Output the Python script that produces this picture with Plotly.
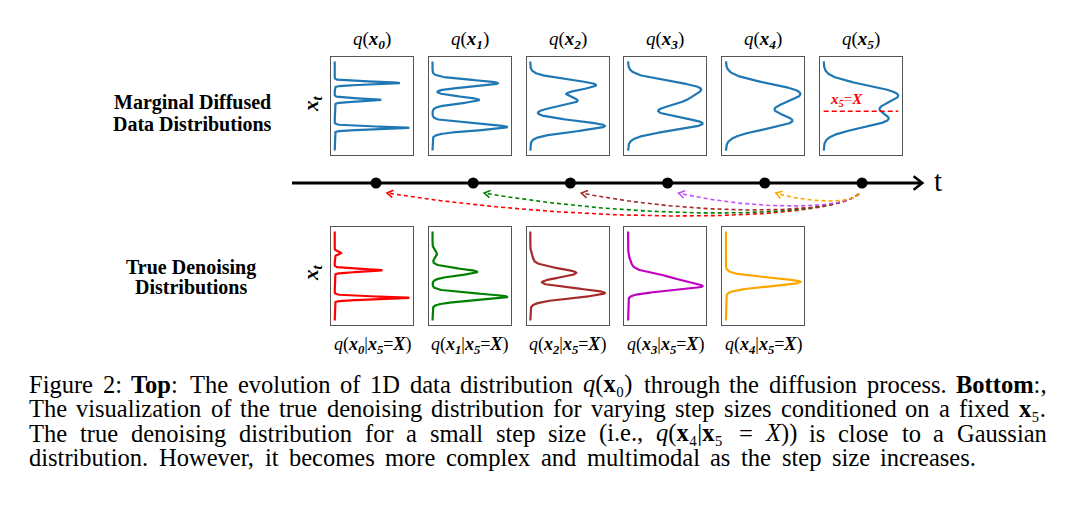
import re
import numpy as np
import plotly.graph_objects as go

W, H = 1081, 513

# ------------------------------------------------------------------ data
STEPS = [0, 1, 2, 3, 4, 5]                      # diffusion steps t
Y_GRID = np.linspace(-4.0, 4.0, 1601)           # x_t grid

# marginal q(x_t): Gaussian-mixture components
TOP_MEANS = [
    [2.06, 0.54, -1.97],
    [2.04, 0.54, -1.89],
    [1.88, 0.45, -1.80],
    [1.65, 0.43, -1.58],
    [1.44, 0.38, -1.38],
    [1.30, 0.34, -1.25],
]
TOP_STDS = [0.12, 0.30, 0.48, 0.61, 0.71, 0.72]
TOP_WEIGHTS = [0.35, 0.25, 0.40]
X_COND = -0.47                                   # x5 = X

# true denoising q(x_s | x5 = X)
BOT_MEANS = [
    [2.06, 0.50, -1.97],
    [1.97, 0.36, -1.88],
    [1.50, 0.27, -1.53],
    [1.00, -0.25, -1.00],
    [-0.54],
]
BOT_STDS = [
    [0.12, 0.12, 0.12],
    [0.30, 0.30, 0.30],
    [0.42, 0.42, 0.42],
    [0.50, 0.45, 0.33],
    [0.38],
]
BOT_WEIGHTS = [
    [0.05, 0.37, 0.58],
    [0.036, 0.36, 0.60],
    [0.02, 0.37, 0.60],
    [0.025, 0.315, 0.33],
    [1.0],
]
TOP_COLOR = "#1f77b4"
BOT_COLORS = ["#ff0000", "#008000", "#a52a2a", "#bf00bf", "#ffa500"]
ARROW_COLORS = ["#ff0000", "#008000", "#a52a2a", "#c050ff", "#ffa500"]
ARROW_DIPS = [33, 30, 27, 23, 18]               # depth of dashed arcs (px)

LEFT_LABELS_TOP = ["Marginal Diffused", "Data Distributions"]
LEFT_LABELS_BOT = ["True Denoising", "Distributions"]

CAPTION = [
    ["Figure", "2:", "<b>Top</b>:", "The", "evolution", "of", "1D", "data", "distribution",
     "<i>q</i>(<b>x</b>₀)", "through", "the", "diffusion", "process.", "<b>Bottom</b>:,"],
    "The visualization of the true denoising distribution for varying step sizes conditioned on a fixed".split()
    + ["<b>x</b>₅."],
    "The true denoising distribution for a small step size (i.e.,".split()
    + ["<i>q</i>(<b>x</b>₄|<b>x</b>₅", "=", "<i>X</i>))"]
    + "is close to a Gaussian".split(),
    "distribution. However, it becomes more complex and multimodal as the step size increases.".split(),
]
CAPTION_RIGHT = [1046, 1046, 1046, 975]

# ------------------------------------------------------------------ layout constants
SERIF = "Liberation Serif, Times New Roman, serif"
PANEL_LEFT0, PANEL_STEP, PANEL_W = 331.0, 97.8, 82.0
TOP_Y = (57.0, 155.0)
BOT_Y = (227.0, 325.0)
T0_PX, PX_PER_T, TL_Y = 376.0, 97.2, 183.0


def mixture(means, stds, weights):
    y = np.zeros_like(Y_GRID)
    for m, s, w in zip(means, stds, weights):
        y += w / (s * np.sqrt(2 * np.pi)) * np.exp(-0.5 * ((Y_GRID - m) / s) ** 2)
    return y


fig = go.Figure()
axis_style = dict(showticklabels=False, ticks="", showgrid=False, zeroline=False,
                  showline=True, mirror=True, linecolor="#555555", linewidth=1)
layout = {}
annotations = []


def ann(px, py, text, size, color="black", **kw):
    d = dict(x=px / W, y=1 - py / H, xref="paper", yref="paper", text=text, showarrow=False,
             xanchor="center", yanchor="middle",
             font=dict(family=SERIF, size=size, color=color))
    d.update(kw)
    annotations.append(d)


def add_panel(idx, left, ytop, ybot, dens, color):
    xa = "xaxis" if idx == 1 else f"xaxis{idx}"
    ya = "yaxis" if idx == 1 else f"yaxis{idx}"
    xr = "x" if idx == 1 else f"x{idx}"
    yr = "y" if idx == 1 else f"y{idx}"
    m = dens.max()
    layout[xa] = dict(axis_style, domain=[left / W, (left + PANEL_W) / W],
                      range=[-0.05 * m, 1.05 * m], anchor=yr)
    layout[ya] = dict(axis_style, domain=[1 - ybot / H, 1 - ytop / H],
                      range=[-4.4, 4.4], anchor=xr)
    fig.add_trace(go.Scatter(x=dens, y=Y_GRID, mode="lines", xaxis=xr, yaxis=yr,
                             line=dict(color=color, width=2.2), hoverinfo="skip"))
    return xr, yr, m


# top row
for i, t in enumerate(STEPS):
    left = PANEL_LEFT0 + PANEL_STEP * i
    dens = mixture(TOP_MEANS[i], [TOP_STDS[i]] * 3, TOP_WEIGHTS)
    xr, yr, m = add_panel(i + 1, left, *TOP_Y, dens, TOP_COLOR)
    ann(left + PANEL_W / 2, 40, f"<i>q</i>(<b><i>x</i><sub><i>{t}</i></sub></b>)", 19)
    if t == STEPS[-1]:
        fig.add_trace(go.Scatter(x=[0, m], y=[X_COND, X_COND], mode="lines", xaxis=xr, yaxis=yr,
                                 line=dict(color="#ff0000", width=1.6, dash="5px,3px"),
                                 hoverinfo="skip"))
        ann(left + 26, 100, "<b><i>x</i><sub><i>5</i></sub></b>=<b><i>X</i></b>", 15, color="#ff0000")

# bottom row
for i in range(5):
    left = PANEL_LEFT0 + PANEL_STEP * i
    dens = mixture(BOT_MEANS[i], BOT_STDS[i], BOT_WEIGHTS[i])
    add_panel(7 + i, left, *BOT_Y, dens, BOT_COLORS[i])
    ann(left + PANEL_W / 2, 345,
        (f"<i>q</i>(<b><i>x</i><sub><i>{STEPS[i]}</i></sub></b>|"
         f"<b><i>x</i><sub><i>{STEPS[-1]}</i></sub></b>=<b><i>X</i></b>)"), 18)

# overlay axis for the timeline (x in t units, y in px above the timeline)
layout["xaxis12"] = dict(domain=[0, 1], range=[-T0_PX / PX_PER_T, (W - T0_PX) / PX_PER_T],
                         visible=False, anchor="y12")
layout["yaxis12"] = dict(domain=[0, 1], range=[-(H - TL_Y), TL_Y], visible=False, anchor="x12")


def to_t(px):
    return px / PX_PER_T


def chevron(tip, d, length, ang):
    d = d / np.linalg.norm(d)
    pts = []
    for a in (ang, -ang):
        c, s = np.cos(a), np.sin(a)
        r = np.array([c * d[0] - s * d[1], s * d[0] + c * d[1]])
        pts.append(tip - r * length)
    P = np.array([pts[0], tip, pts[1]])
    return to_t(P[:, 0]), P[:, 1]


# timeline
t_start, t_end = -0.864, 5.62
fig.add_trace(go.Scatter(x=[t_start, t_end - 0.02], y=[0, 0], mode="lines", xaxis="x12", yaxis="y12",
                         line=dict(color="black", width=3), hoverinfo="skip"))
cx, cy = chevron(np.array([t_end * PX_PER_T, 0.0]), np.array([1.0, 0.0]), 11, np.radians(38))
fig.add_trace(go.Scatter(x=cx, y=cy, mode="lines", xaxis="x12", yaxis="y12",
                         line=dict(color="black", width=2.6), hoverinfo="skip"))
fig.add_trace(go.Scatter(x=STEPS, y=[0] * len(STEPS), mode="markers", xaxis="x12", yaxis="y12",
                         marker=dict(color="black", size=11), hoverinfo="skip"))
ann(T0_PX + (t_end + 0.1) * PX_PER_T, 181, "t", 29, xanchor="left")

# dashed arcs from x5 back to each earlier step
s_arr = np.linspace(0, 1, 120)[:, None]
for i in range(5):
    S = np.array([STEPS[-1] * PX_PER_T - 3, -11.0])
    Hd = np.array([STEPS[i] * PX_PER_T + 11, -10.0])
    L = S[0] - Hd[0]
    c = (8 * (-ARROW_DIPS[i]) - S[1] - Hd[1]) / 6
    P1 = np.array([S[0] - 0.08 * L, c])
    P2 = np.array([Hd[0] + 0.40 * L, c])
    B = ((1 - s_arr) ** 3) * S + 3 * ((1 - s_arr) ** 2) * s_arr * P1 + \
        3 * (1 - s_arr) * s_arr ** 2 * P2 + s_arr ** 3 * Hd
    fig.add_trace(go.Scatter(x=to_t(B[:, 0]), y=B[:, 1], mode="lines", xaxis="x12", yaxis="y12",
                             line=dict(color=ARROW_COLORS[i], width=1.6, dash="4px,3px"),
                             hoverinfo="skip"))
    hx, hy = chevron(Hd, Hd - P2, 7, np.radians(32))
    fig.add_trace(go.Scatter(x=hx, y=hy, mode="lines", xaxis="x12", yaxis="y12",
                             line=dict(color=ARROW_COLORS[i], width=1.6), hoverinfo="skip"))

# left labels
for txt, py in zip(LEFT_LABELS_TOP, [103, 124]):
    ann(192, py, f"<b>{txt}</b>", 20)
for txt, py in zip(LEFT_LABELS_BOT, [267, 287]):
    ann(191, py, f"<b>{txt}</b>", 20)
for py in [104, 273]:
    ann(312, py, "<b><i>x</i><sub><i>t</i></sub></b>", 21, textangle=-90)

# caption (justified word by word, Times metrics)
REG = dict(zip("abcdefghijklmnopqrstuvwxyz",
               [444, 500, 444, 500, 444, 333, 500, 500, 278, 278, 500, 278, 778, 500, 500, 500, 500,
                333, 389, 278, 500, 500, 722, 500, 500, 444]))
REG.update(dict(zip("ABCDEFGHIJKLMNOPQRSTUVWXYZ",
                    [722, 667, 667, 722, 611, 556, 722, 722, 333, 389, 722, 611, 889, 722, 722, 556,
                     722, 667, 556, 611, 722, 722, 944, 722, 722, 611])))
REG.update({" ": 250, ",": 250, ".": 250, ":": 278, ";": 278, "(": 333, ")": 333, "=": 564,
            "|": 200, "-": 333})
REG.update({d: 500 for d in "0123456789"})
REG.update({c: 350 for c in "₀₁₂₃₄₅₆₇₈₉"})
BOLD = {"T": 667, "o": 500, "p": 556, "B": 667, "t": 333, "m": 833, ":": 333, "x": 556}
ITAL = {"q": 500, "X": 611, "x": 444}


def word_width(html, fs):
    bold = ital = sub = False
    w = 0.0
    for tok in re.findall(r"<[^>]+>|[^<]", html):
        if tok.startswith("<"):
            closing = tok.startswith("</")
            tag = tok.strip("</> ").lower()
            if tag == "b":
                bold = not closing
            elif tag == "i":
                ital = not closing
            elif tag == "sub":
                sub = not closing
            continue
        table = BOLD if bold else (ITAL if ital else REG)
        cw = table.get(tok, REG.get(tok, 500))
        w += cw / 1000 * fs * (0.7 if sub else 1.0)
    return w


CAP_FS = 24.5
CAP_LEFT = 28
CAP_Y = [384, 408, 433, 457]
for words, right, py in zip(CAPTION, CAPTION_RIGHT, CAP_Y):
    widths = [word_width(wd, CAP_FS) for wd in words]
    gap = (right - CAP_LEFT - sum(widths)) / (len(words) - 1)
    x = CAP_LEFT
    for wd, ww in zip(words, widths):
        ann(x, py, wd, CAP_FS, xanchor="left", borderpad=0)
        x += ww + gap

fig.update_layout(
    width=W, height=H, margin=dict(l=0, r=0, t=0, b=0),
    paper_bgcolor="white", plot_bgcolor="rgba(0,0,0,0)",
    showlegend=False, hovermode=False,
    annotations=annotations, **layout,
)
fig.write_html("out.html", config={"displayModeBar": False},
               post_script="document.body.style.margin='0px';document.body.style.overflow='hidden';")
